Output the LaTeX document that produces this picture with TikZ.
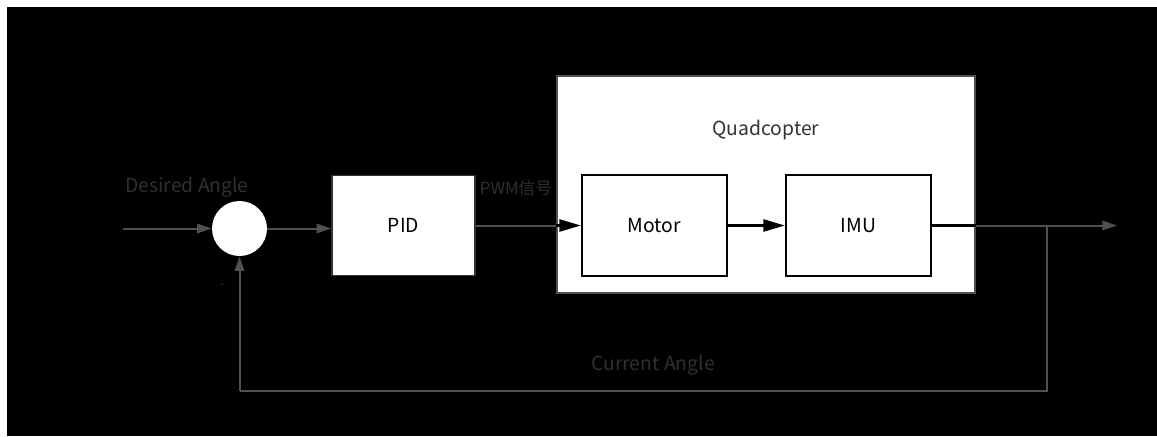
\documentclass[tikz,border=0pt]{standalone}
\usepackage{fontspec}
\setmainfont{Noto Sans CJK SC}
\usetikzlibrary{arrows.meta}
\definecolor{linegray}{HTML}{505050}
\definecolor{labgray}{HTML}{303030}
\begin{document}
\begin{tikzpicture}[x=0.75pt,y=-0.75pt,
  txt/.style={font=\fontsize{14.5}{17}\selectfont},
  blk/.style={draw=black,line width=1.8pt,fill=white,inner sep=0pt,txt},
  outline/.style={draw=linegray,line width=1.2pt,fill=white,inner sep=0pt,txt},
  glink/.style={draw=linegray,line width=1.5pt},
  garrow/.style={glink,-{Triangle[length=11pt,width=7pt]}},
  barrow/.style={draw=black,line width=1.8pt,-{Triangle[length=16pt,width=9pt]}},
  lab/.style={txt,text=labgray}]
\fill[white] (0,0) rectangle (1157,436);
\fill[black] (7,7) rectangle (1157,436);
\useasboundingbox (0,0) rectangle (1157,436);
% blocks
\node[outline,minimum width=313.5pt,minimum height=162.75pt] (quad) at (766,184.5) {};
\node[txt,text=black!80] (quadlab) at (766,130) {Quadcopter};
\node[blk,minimum width=108.75pt,minimum height=75.75pt] (motor) at (654.5,225.5) {Motor};
\node[blk,minimum width=108.75pt,minimum height=75.75pt] (imu) at (858.5,225.5) {IMU};
\node[outline,draw=black!80,minimum width=107.25pt,minimum height=75pt] (pid) at (403.5,225.5) {PID};
\node[circle,fill=white,draw=none,minimum size=41.25pt,inner sep=0pt] (sum) at (239.5,228.5) {};
% labels
\node[lab] (des) at (187,187) {Desired Angle};
\node[lab,font=\fontsize{12.5}{15}\selectfont] (pwm) at (516,188) {PWM信号};
\node[lab] (cur) at (653,365) {Current Angle};
\node[lab,font=\fontsize{10}{12}\selectfont] (minus) at (222,286) {-};
% coordinates
\coordinate (in) at (123,228.5);
\coordinate (out) at (1117,225.5);
\coordinate (br) at (1047,225.5);
\coordinate (bc) at (1047,391);
\coordinate (bl) at (239.5,391);
% connectors
\draw[garrow] (in) -- (sum.west);
\draw[garrow] (sum.east) -- (pid.west |- sum.east);
\draw[glink] (pid.east) -- (quad.west |- pid.east);
\draw[barrow] (quad.west |- pid.east) -- (motor.west);
\draw[barrow] (motor.east) -- (imu.west);
\draw[draw=black,line width=1.8pt] (imu.east) -- (quad.east |- imu.east);
\draw[garrow] (quad.east |- imu.east) -- (out);
\draw[glink] (br) -- (bc) -- (bl);
\draw[garrow] (bl) -- (sum.south);
\end{tikzpicture}
\end{document}
